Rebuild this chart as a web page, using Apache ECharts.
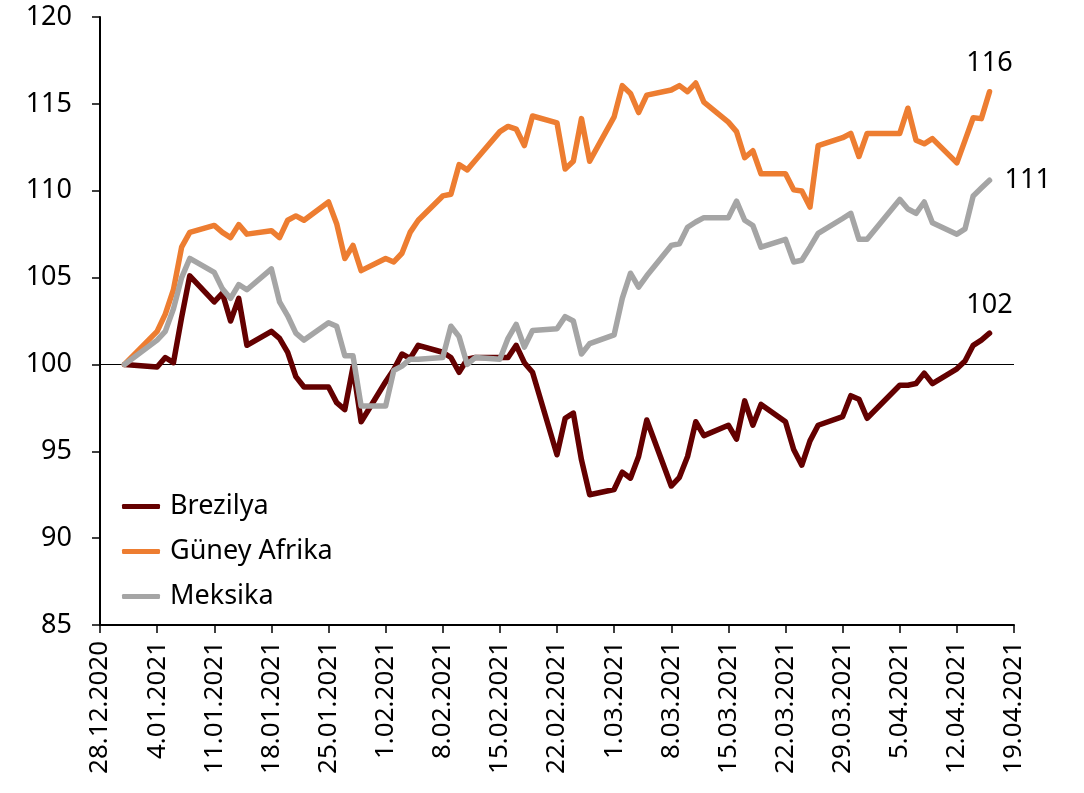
<!DOCTYPE html>
<html>
<head>
<meta charset="utf-8">
<script src="https://cdn.jsdelivr.net/npm/echarts@6/dist/echarts.min.js"></script>
<style>
html,body{margin:0;padding:0;background:#fff;}
#chart{width:1084px;height:793px;}
</style>
</head>
<body>
<div id="chart"></div>
<script>
const startDate = '2020-12-28';
const xTickLabels = ['28.12.2020','4.01.2021','11.01.2021','18.01.2021','25.01.2021','1.02.2021','8.02.2021','15.02.2021','22.02.2021','1.03.2021','8.03.2021','15.03.2021','22.03.2021','29.03.2021','5.04.2021','12.04.2021','19.04.2021'];
const yTicks = {min: 85, max: 120, interval: 5};
const dates = [
  '2020-12-31',
  '2021-01-04','2021-01-05','2021-01-06','2021-01-07','2021-01-08',
  '2021-01-11','2021-01-12','2021-01-13','2021-01-14','2021-01-15',
  '2021-01-18','2021-01-19','2021-01-20','2021-01-21','2021-01-22',
  '2021-01-25','2021-01-26','2021-01-27','2021-01-28','2021-01-29',
  '2021-02-01','2021-02-02','2021-02-03','2021-02-04','2021-02-05',
  '2021-02-08','2021-02-09','2021-02-10','2021-02-11','2021-02-12',
  '2021-02-15','2021-02-16','2021-02-17','2021-02-18','2021-02-19',
  '2021-02-22','2021-02-23','2021-02-24','2021-02-25','2021-02-26',
  '2021-03-01','2021-03-02','2021-03-03','2021-03-04','2021-03-05',
  '2021-03-08','2021-03-09','2021-03-10','2021-03-11','2021-03-12',
  '2021-03-15','2021-03-16','2021-03-17','2021-03-18','2021-03-19',
  '2021-03-22','2021-03-23','2021-03-24','2021-03-25','2021-03-26',
  '2021-03-29','2021-03-30','2021-03-31','2021-04-01',
  '2021-04-05','2021-04-06','2021-04-07','2021-04-08','2021-04-09',
  '2021-04-12','2021-04-13','2021-04-14','2021-04-15','2021-04-16'
];
const brezilya = [
  100.0,
  99.85, 100.4, 100.1, 102.7, 105.1,
  103.6, 104.1, 102.5, 103.8, 101.1,
  101.9, 101.5, 100.7, 99.3, 98.7,
  98.7, 97.8, 97.4, 99.85, 96.7,
  99.0, 99.7, 100.6, 100.35, 101.1,
  100.7, 100.4, 99.55, 100.3, 100.4,
  100.4, 100.4, 101.1, 100.1, 99.55,
  94.8, 96.9, 97.2, 94.5, 92.5,
  92.8, 93.8, 93.45, 94.7, 96.8,
  93.0, 93.5, 94.7, 96.7, 95.9,
  96.5, 95.7, 97.9, 96.5, 97.7,
  96.7, 95.1, 94.2, 95.6, 96.5,
  97.0, 98.2, 98.0, 96.9,
  98.8, 98.8, 98.9, 99.5, 98.9,
  99.75, 100.2, 101.1, 101.4, 101.8
];
const guneyAfrika = [
  100.0,
  101.9, 102.9, 104.3, 106.75, 107.6,
  108.0, 107.6, 107.3, 108.05, 107.5,
  107.7, 107.3, 108.3, 108.55, 108.3,
  109.35, 108.1, 106.1, 106.85, 105.4,
  106.1, 105.9, 106.4, 107.6, 108.3,
  109.7, 109.8, 111.5, 111.2, 111.75,
  113.4, 113.7, 113.55, 112.6, 114.3,
  113.9, 111.25, 111.7, 114.15, 111.7,
  114.25, 116.05, 115.6, 114.5, 115.5,
  115.8, 116.05, 115.7, 116.2, 115.1,
  113.95, 113.4, 111.9, 112.3, 110.97,
  110.97, 110.05, 109.98, 109.06, 112.6,
  113.05, 113.3, 111.97, 113.3,
  113.3, 114.75, 112.9, 112.7, 113.0,
  111.6, 112.9, 114.2, 114.15, 115.7
];
const meksika = [
  100.0,
  101.4, 101.9, 103.2, 105.0, 106.1,
  105.3, 104.35, 103.8, 104.6, 104.3,
  105.5, 103.6, 102.8, 101.8, 101.4,
  102.4, 102.2, 100.5, 100.5, 97.6,
  97.6, 99.65, 99.9, 100.3, 100.3,
  100.4, 102.2, 101.6, 100.0, 100.4,
  100.3, 101.5, 102.3, 101.0, 101.95,
  102.05, 102.75, 102.5, 100.6, 101.2,
  101.7, 103.8, 105.25, 104.45, 105.1,
  106.85, 106.95, 107.9, 108.2, 108.45,
  108.45, 109.4, 108.3, 108.0, 106.75,
  107.2, 105.9, 106.0, 106.75, 107.55,
  108.4, 108.7, 107.2, 107.2,
  109.5, 108.95, 108.7, 109.35, 108.15,
  107.5, 107.8, 109.7, 110.15, 110.6
];
const seriesNames = ['Brezilya', 'Güney Afrika', 'Meksika'];
const seriesColors = ['#640000', '#ED7D31', '#A5A5A5'];
const baseline = 100;

const FONT = 'Noto Sans';
const t0 = Date.parse(startDate);
const xs = dates.map(d => Math.round((Date.parse(d) - t0) / 86400000));

const chart = echarts.init(document.getElementById('chart'), null, {renderer: 'canvas'});
const endLabelCfg = [
  {align: 'center', verticalAlign: 'bottom', offset: [0, -14]},
  {align: 'center', verticalAlign: 'bottom', offset: [0, -15]},
  {align: 'left', verticalAlign: 'middle', offset: [15, 0]}
];
const lineSeries = [brezilya, guneyAfrika, meksika].map((vals, k) => ({
  name: seriesNames[k],
  type: 'line',
  data: vals.map((v, i) => [xs[i], v]),
  symbol: 'none',
  showSymbol: false,
  lineStyle: {color: seriesColors[k], width: 5.5, join: 'round', cap: 'round'},
  itemStyle: {color: seriesColors[k]},
  emphasis: {disabled: true},
  endLabel: {
    show: true,
    formatter: p => String(Math.round(p.value[1])),
    fontFamily: FONT, fontSize: 27, color: '#000',
    distance: 0,
    align: endLabelCfg[k].align,
    verticalAlign: endLabelCfg[k].verticalAlign,
    offset: endLabelCfg[k].offset
  },
  z: 3 + k
}));
lineSeries[0].markLine = {
  silent: true,
  symbol: 'none',
  label: {show: false},
  lineStyle: {color: '#000', width: 1, type: 'solid'},
  data: [{yAxis: baseline}],
  z: 1
};

chart.setOption({
  animation: false,
  backgroundColor: '#fff',
  grid: {left: 100, right: 70, top: 17, bottom: 168, containLabel: false},
  legend: {
    orient: 'vertical',
    left: 117,
    top: 488,
    itemWidth: 38,
    itemHeight: 5,
    itemGap: 18,
    icon: 'roundRect',
    data: seriesNames,
    textStyle: {fontFamily: FONT, fontSize: 27, color: '#000', padding: [0, 0, 0, 5]}
  },
  xAxis: {
    type: 'value',
    min: 0,
    max: (xTickLabels.length - 1) * 7,
    interval: 7,
    axisLine: {show: true, onZero: false, lineStyle: {color: '#000', width: 2}},
    axisTick: {show: true, length: 8, inside: false, lineStyle: {color: '#000', width: 1.5}},
    splitLine: {show: false},
    axisLabel: {
      rotate: 90,
      margin: 16,
      fontFamily: FONT,
      fontSize: 26,
      color: '#000',
      formatter: v => xTickLabels[Math.round(v / 7)] || ''
    }
  },
  yAxis: {
    type: 'value',
    min: yTicks.min,
    max: yTicks.max,
    interval: yTicks.interval,
    axisLine: {show: true, lineStyle: {color: '#000', width: 2}},
    axisTick: {show: true, length: 8, inside: false, lineStyle: {color: '#000', width: 1.5}},
    splitLine: {show: false},
    axisLabel: {margin: 28, fontFamily: FONT, fontSize: 27, color: '#000'}
  },
  series: lineSeries
});
</script>
</body>
</html>
